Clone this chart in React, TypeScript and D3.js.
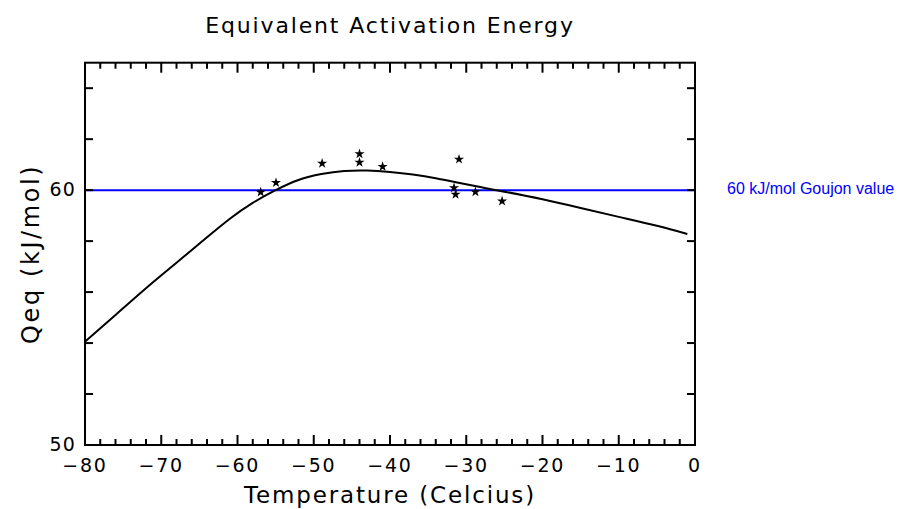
import React from "react";
import * as d3 from "d3";

const curveT = [-80, -76, -72, -68, -64, -61, -58, -55, -52, -49, -46, -43, -40, -37, -34, -31, -28, -25, -20, -15, -10, -5, -1];
const curveQ = [54.05, 55.1, 56.15, 57.15, 58.15, 58.88, 59.5, 60.0, 60.4, 60.63, 60.75, 60.77, 60.71, 60.61, 60.47, 60.29, 60.11, 59.94, 59.64, 59.3, 58.95, 58.6, 58.28];

const starT = [-56.96, -54.95, -48.9, -44.0, -44.0, -40.97, -30.95, -31.6, -31.4, -28.8, -25.3];
const starQ = [59.92, 60.29, 61.05, 61.42, 61.09, 60.92, 61.21, 60.09, 59.83, 59.93, 59.57];

const xMajor = [-80, -70, -60, -50, -40, -30, -20, -10, 0];
const xMinor = d3.range(-80, 0.1, 2);
const yTicks = d3.range(50, 65.1, 2);
const yLabels = [50, 60];
const goujon = 60;

const W = 897, H = 509;
const L = 85, R = 695, T = 62.7, B = 445;

export default function App() {
  const x = d3.scaleLinear().domain([-80, 0]).range([L, R]);
  const y = d3.scaleLinear().domain([50, 65]).range([B, T]);
  const line = d3.line<number>().x((_, i) => x(curveT[i])).y((d) => y(d)).curve(d3.curveNatural);
  const star = d3.symbol().type(d3.symbolStar).size(32)();
  const font = "'DejaVu Sans', sans-serif";
  const fmt = (v: number) => (v < 0 ? "\u2212" + Math.abs(v) : String(v));
  return (
    <svg width={W} height={H} style={{ position: "absolute", left: 0, top: 0, background: "#fff" }}>
      <rect width={W} height={H} fill="#fff" />
      <text x={(L + R) / 2} y={33} textAnchor="middle" fontFamily={font} fontSize={22} letterSpacing={1.85} fill="#000">
        Equivalent Activation Energy
      </text>
      <line x1={L} x2={R} y1={y(goujon)} y2={y(goujon)} stroke="#0000ff" strokeWidth={2} />
      <text x={727} y={194} fontFamily="'Liberation Sans', Arial, sans-serif" fontSize={16} fill="#0000ff">
        60 kJ/mol Goujon value
      </text>
      <path d={line(curveQ) || ""} fill="none" stroke="#000" strokeWidth={2} />
      {starT.map((t, i) => (
        <path key={i} d={star || ""} transform={`translate(${x(t)},${y(starQ[i])})`} fill="#000" />
      ))}
      <rect x={L} y={T} width={R - L} height={B - T} fill="none" stroke="#000" strokeWidth={2} />
      {xMinor.map((v) => {
        const major = xMajor.includes(Math.round(v));
        const len = major ? 10 : 6;
        return (
          <g key={v}>
            <line x1={x(v)} x2={x(v)} y1={B} y2={B - len} stroke="#000" strokeWidth={2} />
            <line x1={x(v)} x2={x(v)} y1={T} y2={T + len} stroke="#000" strokeWidth={2} />
          </g>
        );
      })}
      {yTicks.map((v) => (
        <g key={v}>
          <line x1={L} x2={L + 8} y1={y(v)} y2={y(v)} stroke="#000" strokeWidth={2} />
          <line x1={R} x2={R - 8} y1={y(v)} y2={y(v)} stroke="#000" strokeWidth={2} />
        </g>
      ))}
      {xMajor.map((v) => (
        <text key={v} x={x(v)} y={472} textAnchor="middle" fontFamily={font} fontSize={19} letterSpacing={1.8} fill="#000">
          {fmt(v)}
        </text>
      ))}
      {yLabels.map((v) => (
        <text key={v} x={76} y={y(v) + 6} textAnchor="end" fontFamily={font} fontSize={19} letterSpacing={1.2} fill="#000">
          {v}
        </text>
      ))}
      <text x={(L + R) / 2} y={503} textAnchor="middle" fontFamily={font} fontSize={23} letterSpacing={1.85} fill="#000">
        Temperature (Celcius)
      </text>
      <text transform={`translate(39,${(T + B) / 2}) rotate(-90)`} textAnchor="middle" fontFamily={font} fontSize={24} letterSpacing={2.6} fill="#000">
        Qeq (kJ/mol)
      </text>
    </svg>
  );
}
